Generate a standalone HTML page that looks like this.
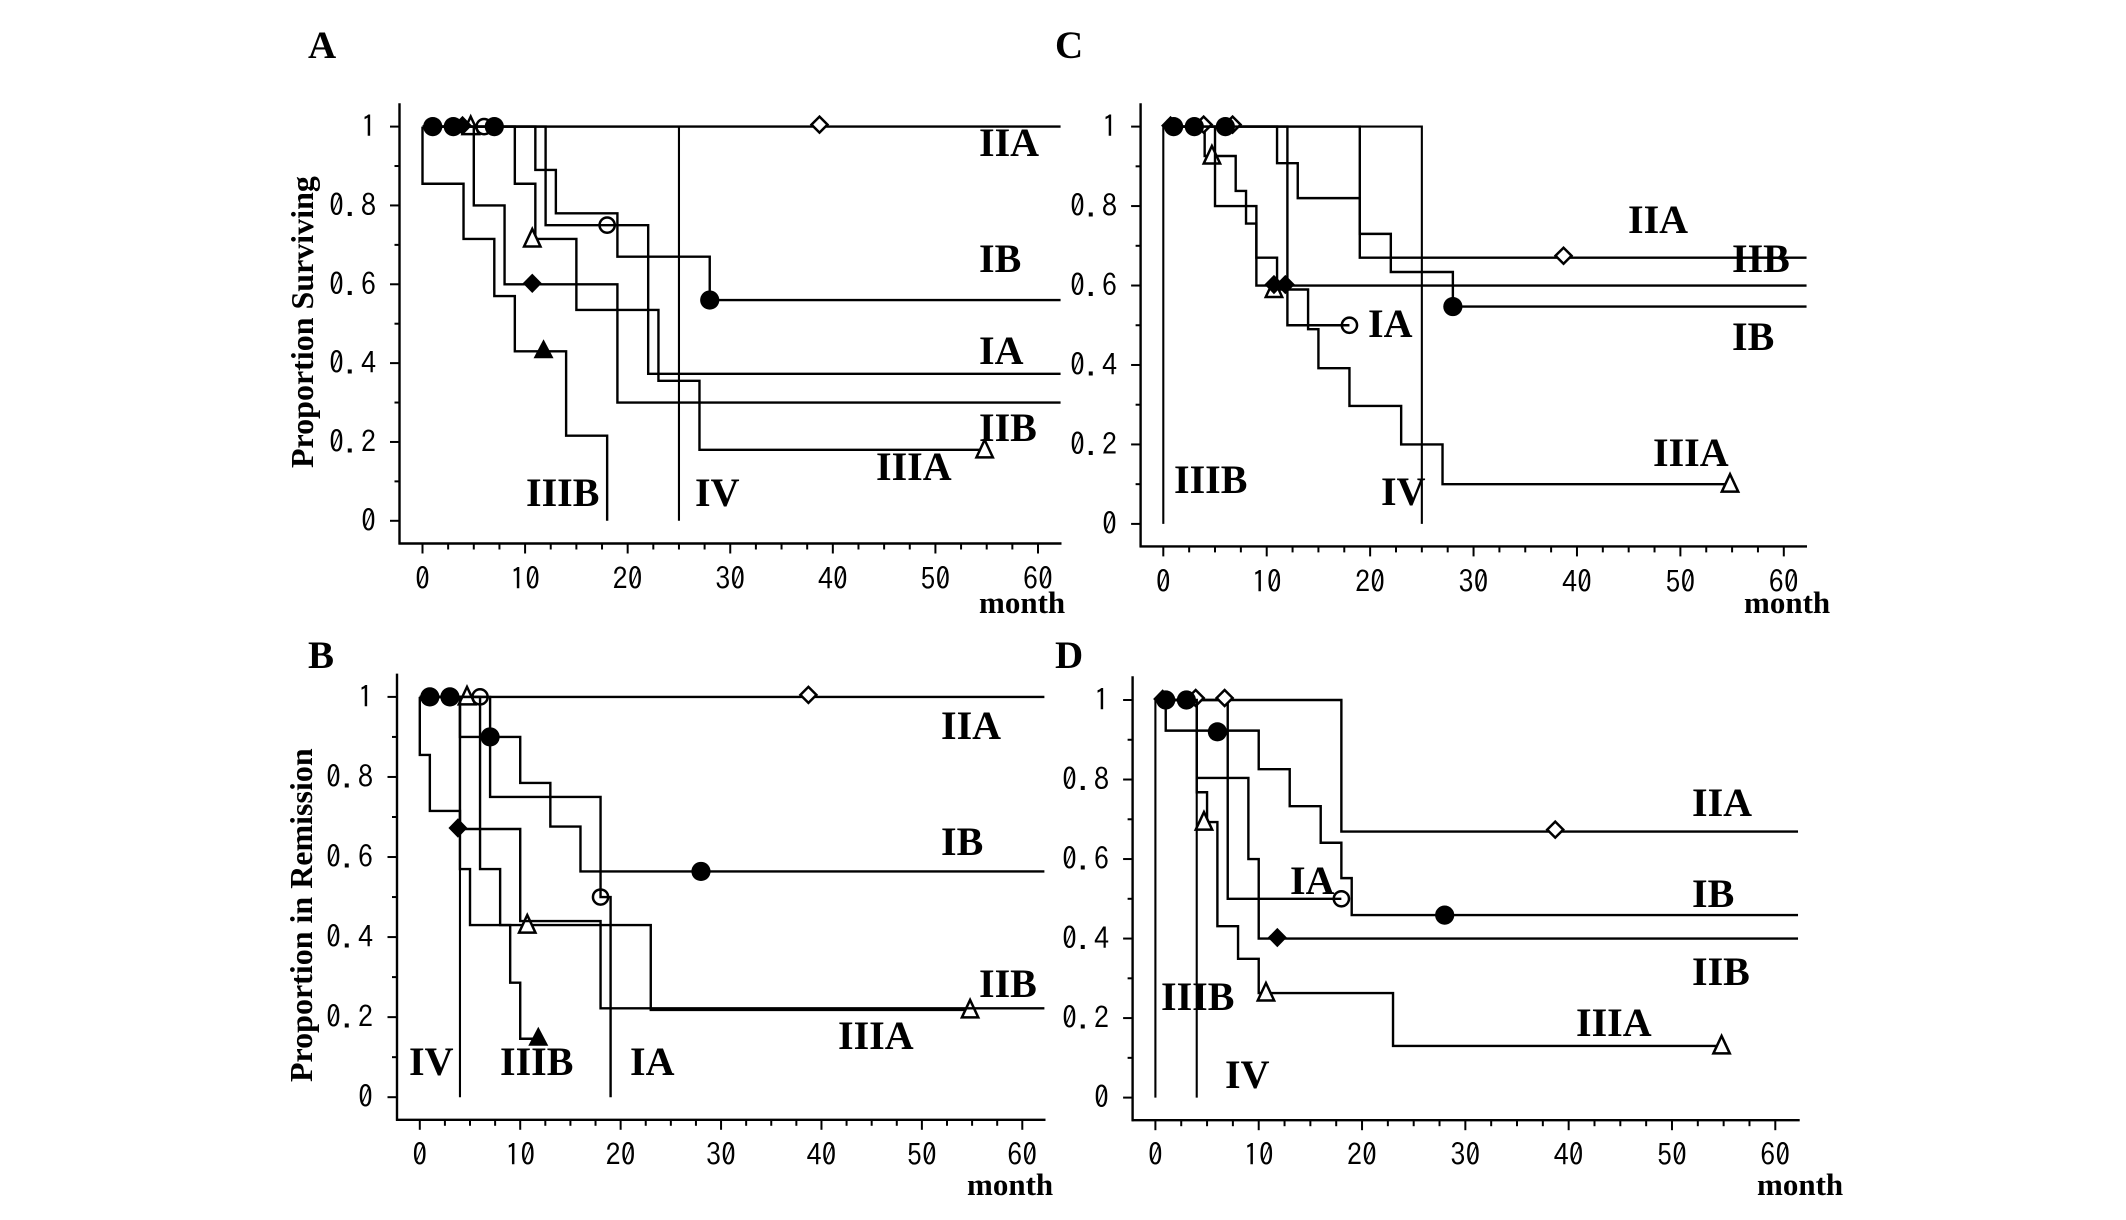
<!DOCTYPE html>
<html lang="en">
<head>
<meta charset="utf-8">
<title>Survival and remission curves by stage</title>
<style>
html,body{margin:0;padding:0;background:#fff;overflow:hidden;}
svg{display:block;}
.big{font-family:"Liberation Serif",serif;font-weight:bold;font-size:40px;fill:#000;}
.panel-letter{font-family:"Liberation Serif",serif;font-weight:bold;font-size:39px;fill:#000;}
.month{font-family:"Liberation Serif",serif;font-weight:bold;font-size:31px;fill:#000;}
.title{font-family:"Liberation Serif",serif;font-weight:bold;font-size:32px;fill:#000;}
.tick{font-family:"IPAGothic","Liberation Sans",sans-serif;font-size:30px;fill:#000;}
</style>
</head>
<body>
<svg id="figure" xmlns="http://www.w3.org/2000/svg" width="2126" height="1220" viewBox="0 0 2126 1220">
<rect width="2126" height="1220" fill="#fff"/>
<g id="plots"></g>

<text class="panel-letter" x="308" y="58">A</text>
<text class="panel-letter" x="1055" y="58">C</text>
<text class="panel-letter" x="308" y="668">B</text>
<text class="panel-letter" x="1055" y="668">D</text>

<text class="title" transform="translate(313,468) rotate(-90)">Proportion Surviving</text>
<text class="title" transform="translate(312,1082) rotate(-90)">Proportion in Remission</text>

<text class="month" x="979" y="613">month</text>
<text class="month" x="1744" y="613">month</text>
<text class="month" x="967" y="1195">month</text>
<text class="month" x="1757" y="1195">month</text>

<text class="big" x="979" y="156">IIA</text>
<text class="big" x="979" y="272">IB</text>
<text class="big" x="979" y="364">IA</text>
<text class="big" x="979" y="441">IIB</text>
<text class="big" x="876" y="480">IIIA</text>
<text class="big" x="526" y="506">IIIB</text>
<text class="big" x="695" y="506">IV</text>

<text class="big" x="1628" y="233">IIA</text>
<text class="big" x="1732" y="272">IIB</text>
<text class="big" x="1368" y="337">IA</text>
<text class="big" x="1732" y="350">IB</text>
<text class="big" x="1653" y="466">IIIA</text>
<text class="big" x="1174" y="493">IIIB</text>
<text class="big" x="1381" y="505">IV</text>

<text class="big" x="941" y="739">IIA</text>
<text class="big" x="941" y="855">IB</text>
<text class="big" x="979" y="997">IIB</text>
<text class="big" x="838" y="1049">IIIA</text>
<text class="big" x="409" y="1075">IV</text>
<text class="big" x="500" y="1075">IIIB</text>
<text class="big" x="630" y="1075">IA</text>

<text class="big" x="1692" y="816">IIA</text>
<text class="big" x="1290" y="894">IA</text>
<text class="big" x="1692" y="907">IB</text>
<text class="big" x="1692" y="985">IIB</text>
<text class="big" x="1161" y="1010">IIIB</text>
<text class="big" x="1576" y="1036">IIIA</text>
<text class="big" x="1225" y="1088">IV</text>
</svg>

<script>
// Shared tick data
const xMajorTicks = [0, 10, 20, 30, 40, 50, 60];
const xMinorTicks = [2.5, 5, 7.5, 12.5, 15, 17.5, 22.5, 25, 27.5, 32.5, 35, 37.5, 42.5, 45, 47.5, 52.5, 55, 57.5];
const yMajorTicks = [0, 0.2, 0.4, 0.6, 0.8, 1];
const yMinorTicks = [0.1, 0.3, 0.5, 0.7, 0.9];
const yTickLabels = ['0', '0.2', '0.4', '0.6', '0.8', '1'];

// Panel A
const aIIAMonths = [0, 62.2];
const aIIAValues = [1, 1];
const aIIAMarkMonths = [38.7];
const aIIAMarkValues = [1];
const aIBMonths = [0, 11, 13, 19, 28, 62.2];
const aIBValues = [1, 0.89, 0.78, 0.67, 0.56, 0.56];
const aIBMarkMonths = [1, 3, 7, 28];
const aIBMarkValues = [1, 1, 1, 0.56];
const aIAMonths = [0, 12, 22, 62.2];
const aIAValues = [1, 0.75, 0.373, 0.373];
const aIAMarkMonths = [6, 18];
const aIAMarkValues = [1, 0.75];
const aIIBMonths = [0, 5, 8, 19, 62.2];
const aIIBValues = [1, 0.8, 0.6, 0.3, 0.3];
const aIIBMarkMonths = [3.9, 10.7];
const aIIBMarkValues = [1, 0.6];
const aIIIAMonths = [0, 9, 11, 15, 23, 27, 55];
const aIIIAValues = [1, 0.855, 0.715, 0.535, 0.355, 0.18, 0.18];
const aIIIAMarkMonths = [4.7, 10.7, 54.8];
const aIIIAMarkValues = [1, 0.715, 0.18];
const aIIIBMonths = [0, 0, 4, 7, 9, 14, 18];
const aIIIBValues = [1, 0.855, 0.715, 0.57, 0.43, 0.216, 0];
const aIIIBMarkMonths = [11.8];
const aIIIBMarkValues = [0.43];
const aIVMonths = [0, 25];
const aIVValues = [1, 0];

// Panel B
const bIIAMonths = [0, 62.2];
const bIIAValues = [1, 1];
const bIIAMarkMonths = [38.7];
const bIIAMarkValues = [1];
const bIBMonths = [0, 4, 10, 13, 16, 62.2];
const bIBValues = [1, 0.9, 0.785, 0.676, 0.564, 0.564];
const bIBMarkMonths = [1, 3, 7, 28];
const bIBMarkValues = [1, 1, 0.9, 0.564];
const bIAMonths = [0, 7, 18, 19];
const bIAValues = [1, 0.75, 0.5, 0];
const bIAMarkMonths = [6, 18];
const bIAMarkValues = [1, 0.5];
const bIIBMonths = [0, 4, 10, 18, 62.2];
const bIIBValues = [1, 0.67, 0.44, 0.222, 0.222];
const bIIBMarkMonths = [3.8];
const bIIBMarkValues = [0.67];
const bIIIAMonths = [0, 6, 8, 23, 55];
const bIIIAValues = [1, 0.57, 0.43, 0.218, 0.218];
const bIIIAMarkMonths = [4.7, 10.7, 54.8];
const bIIIAMarkValues = [1, 0.43, 0.218];
const bIIIBMonths = [0, 0, 1, 4, 5, 9, 10, 12];
const bIIIBValues = [1, 0.855, 0.715, 0.57, 0.43, 0.286, 0.146, 0.146];
const bIIIBMarkMonths = [11.8];
const bIIIBMarkValues = [0.146];
const bIVMonths = [0, 4];
const bIVValues = [1, 0];

// Panel C
const cIIAMonths = [0, 19, 62.2];
const cIIAValues = [1, 0.67, 0.67];
const cIIAMarkMonths = [3.9, 6.7, 38.7];
const cIIAMarkValues = [1, 1, 0.67];
const cIBMonths = [0, 11, 13, 19, 22, 28, 62.2];
const cIBValues = [1, 0.908, 0.82, 0.73, 0.634, 0.547, 0.547];
const cIBMarkMonths = [1, 3, 6, 28];
const cIBMarkValues = [1, 1, 1, 0.547];
const cIAMonths = [0, 12, 18];
const cIAValues = [1, 0.5, 0.5];
const cIAMarkMonths = [18];
const cIAMarkValues = [0.5];
const cIIBMonths = [0, 5, 9, 62.2];
const cIIBValues = [1, 0.8, 0.6, 0.6];
const cIIBMarkMonths = [0.7, 10.7, 11.8];
const cIIBMarkValues = [1, 0.6, 0.6];
const cIIIAMonths = [0, 4, 7, 8, 9, 11, 14, 15, 18, 23, 27, 55];
const cIIIAValues = [1, 0.926, 0.838, 0.756, 0.67, 0.59, 0.49, 0.392, 0.297, 0.2, 0.1, 0.1];
const cIIIAMarkMonths = [4.7, 10.7, 54.8];
const cIIIAMarkValues = [0.926, 0.59, 0.1];
const cIIIBMonths = [0, 0];
const cIIIBValues = [1, 0];
const cIVMonths = [0, 25];
const cIVValues = [1, 0];

// Panel D
const dIIAMonths = [0, 18, 62.2];
const dIIAValues = [1, 0.669, 0.669];
const dIIAMarkMonths = [3.9, 6.7, 38.7];
const dIIAMarkValues = [1, 1, 0.669];
const dIBMonths = [0, 1, 10, 13, 16, 18, 19, 62.2];
const dIBValues = [1, 0.923, 0.826, 0.733, 0.641, 0.552, 0.459, 0.459];
const dIBMarkMonths = [1, 3, 6, 28];
const dIBMarkValues = [1, 1, 0.92, 0.459];
const dIAMonths = [0, 7, 18];
const dIAValues = [1, 0.5, 0.5];
const dIAMarkMonths = [18];
const dIAMarkValues = [0.5];
const dIIBMonths = [0, 4, 9, 10, 62.2];
const dIIBValues = [1, 0.804, 0.6, 0.4, 0.4];
const dIIBMarkMonths = [0.7, 11.8];
const dIIBMarkValues = [1, 0.4];
const dIIIAMonths = [0, 4, 5, 6, 8, 10, 23, 55];
const dIIIAValues = [1, 0.768, 0.693, 0.431, 0.349, 0.263, 0.13, 0.13];
const dIIIAMarkMonths = [4.7, 10.7, 54.8];
const dIIIAMarkValues = [0.693, 0.263, 0.13];
const dIIIBMonths = [0, 0];
const dIIIBValues = [1, 0];
const dIVMonths = [0, 4];
const dIVValues = [1, 0];

const SVGNS = 'http://www.w3.org/2000/svg';
const plots = document.getElementById('plots');

function el(tag, parent, attrs) {
  const n = document.createElementNS(SVGNS, tag);
  for (const k in attrs) n.setAttribute(k, attrs[k]);
  parent.appendChild(n);
  return n;
}

function makeAxes(g, p, sx, sy) {
  const yAxis = el('line', g, {x1: p.axisX, x2: p.axisX, y1: p.top, y2: p.axisY + 1, stroke: '#000', 'stroke-width': 2.4});
  
  
  const xAxis = el('line', g, {x1: p.axisX - 1, x2: p.right, y1: p.axisY, y2: p.axisY, stroke: '#000', 'stroke-width': 2.4});
  
  

  xMajorTicks.forEach(function (t) {
    const tick = el('line', g, {x1: sx(t), x2: sx(t), y1: p.axisY, y2: p.axisY + 10, stroke: '#000', 'stroke-width': 2});
    
    
    const lab = el('text', g, {class: 'tick', 'text-anchor': 'middle', x: sx(t), y: p.xLabelBase});
    
    
    lab.textContent = String(t);
  });
  xMinorTicks.forEach(function (t) {
    const tick = el('line', g, {x1: sx(t), x2: sx(t), y1: p.axisY, y2: p.axisY + 6, stroke: '#000', 'stroke-width': 2});
    
    
  });
  yMajorTicks.forEach(function (v, i) {
    const tick = el('line', g, {x1: p.axisX - 9.5, x2: p.axisX, y1: sy(v), y2: sy(v), stroke: '#000', 'stroke-width': 2});
    
    
    const lab = el('text', g, {class: 'tick', 'text-anchor': 'end', x: p.tickRight, y: sy(v) + 10.5, 'letter-spacing': 1});
    
    
    lab.textContent = yTickLabels[i];
  });
  yMinorTicks.forEach(function (v) {
    const tick = el('line', g, {x1: p.axisX - 5, x2: p.axisX, y1: sy(v), y2: sy(v), stroke: '#000', 'stroke-width': 2});
    
    
  });
}

function stepPath(months, values, sx, sy) {
  let d = 'M' + sx(months[0]) + ' ' + sy(values[0]);
  for (let i = 1; i < months.length; i++) {
    d += 'H' + sx(months[i]) + 'V' + sy(values[i]);
  }
  return d;
}

function drawMarker(g, shape, x, y) {
  let m;
  if (shape === 'filled-circle') {
    m = el('circle', g, {cx: x, cy: y, r: 9.6, fill: '#000'});
  } else if (shape === 'open-circle') {
    m = el('circle', g, {cx: x, cy: y, r: 7.6, fill: 'none', stroke: '#000', 'stroke-width': 2.5});
  } else if (shape === 'open-diamond') {
    m = el('path', g, {d: 'M' + x + ' ' + (y - 10) + 'L' + (x + 8) + ' ' + (y - 2) + 'L' + x + ' ' + (y + 6) + 'L' + (x - 8) + ' ' + (y - 2) + 'Z', fill: '#fff', stroke: '#000', 'stroke-width': 2.5});
  } else if (shape === 'filled-diamond') {
    m = el('path', g, {d: 'M' + x + ' ' + (y - 10.7) + 'L' + (x + 9.5) + ' ' + (y - 1) + 'L' + x + ' ' + (y + 8.7) + 'L' + (x - 9.5) + ' ' + (y - 1) + 'Z', fill: '#000'});
  } else if (shape === 'open-triangle') {
    m = el('path', g, {d: 'M' + x + ' ' + (y - 10) + 'L' + (x + 8.2) + ' ' + (y + 7.5) + 'L' + (x - 8.2) + ' ' + (y + 7.5) + 'Z', fill: '#fff', stroke: '#000', 'stroke-width': 2.5});
  } else {
    m = el('path', g, {d: 'M' + x + ' ' + (y - 12) + 'L' + (x + 10) + ' ' + (y + 7) + 'L' + (x - 10) + ' ' + (y + 7) + 'Z', fill: '#000'});
  }
  
  
}

function drawSeries(g, s, sx, sy) {
  const line = el('path', g, {d: stepPath(s.months, s.values, sx, sy), fill: 'none', stroke: '#000', 'stroke-width': s.width || 2.4});
  
  
  if (s.markMonths) {
    s.markMonths.forEach(function (mo, i) {
      drawMarker(g, s.shape, sx(mo), sy(s.markValues[i]));
    });
  }
}

const panels = [
  {name: 'a', x0: 422.5, x60: 1038, y1: 126.6, y0: 520.8, axisX: 399.5, axisY: 543.5, top: 103.3, right: 1061.5, tickRight: 377, xLabelBase: 589.5,
    series: [
      {name: 'iv', months: aIVMonths, values: aIVValues, width: 2.1},
      {name: 'iiib', months: aIIIBMonths, values: aIIIBValues, markMonths: aIIIBMarkMonths, markValues: aIIIBMarkValues, shape: 'filled-triangle'},
      {name: 'iiia', months: aIIIAMonths, values: aIIIAValues, markMonths: aIIIAMarkMonths, markValues: aIIIAMarkValues, shape: 'open-triangle'},
      {name: 'iib', months: aIIBMonths, values: aIIBValues, markMonths: aIIBMarkMonths, markValues: aIIBMarkValues, shape: 'filled-diamond'},
      {name: 'ia', months: aIAMonths, values: aIAValues, markMonths: aIAMarkMonths, markValues: aIAMarkValues, shape: 'open-circle'},
      {name: 'ib', months: aIBMonths, values: aIBValues, markMonths: aIBMarkMonths, markValues: aIBMarkValues, shape: 'filled-circle'},
      {name: 'iia', months: aIIAMonths, values: aIIAValues, markMonths: aIIAMarkMonths, markValues: aIIAMarkValues, shape: 'open-diamond'}
    ]},
  {name: 'c', x0: 1163.3, x60: 1783.8, y1: 126.6, y0: 523.9, axisX: 1140.6, axisY: 546.4, top: 103.3, right: 1807, tickRight: 1118, xLabelBase: 592.6,
    series: [
      {name: 'iiib', months: cIIIBMonths, values: cIIIBValues, width: 2.1},
      {name: 'iv', months: cIVMonths, values: cIVValues, width: 2.1},
      {name: 'iiia', months: cIIIAMonths, values: cIIIAValues, markMonths: cIIIAMarkMonths, markValues: cIIIAMarkValues, shape: 'open-triangle'},
      {name: 'ia', months: cIAMonths, values: cIAValues, markMonths: cIAMarkMonths, markValues: cIAMarkValues, shape: 'open-circle'},
      {name: 'iia', months: cIIAMonths, values: cIIAValues, markMonths: cIIAMarkMonths, markValues: cIIAMarkValues, shape: 'open-diamond'},
      {name: 'iib', months: cIIBMonths, values: cIIBValues, markMonths: cIIBMarkMonths, markValues: cIIBMarkValues, shape: 'filled-diamond'},
      {name: 'ib', months: cIBMonths, values: cIBValues, markMonths: cIBMarkMonths, markValues: cIBMarkValues, shape: 'filled-circle'}
    ]},
  {name: 'b', x0: 419.8, x60: 1022.3, y1: 696.9, y0: 1097.2, axisX: 397, axisY: 1119.8, top: 673.6, right: 1045.5, tickRight: 374, xLabelBase: 1165.3,
    series: [
      {name: 'iv', months: bIVMonths, values: bIVValues, width: 2.1},
      {name: 'iiib', months: bIIIBMonths, values: bIIIBValues, markMonths: bIIIBMarkMonths, markValues: bIIIBMarkValues, shape: 'filled-triangle'},
      {name: 'iiia', months: bIIIAMonths, values: bIIIAValues, markMonths: bIIIAMarkMonths, markValues: bIIIAMarkValues, shape: 'open-triangle'},
      {name: 'iib', months: bIIBMonths, values: bIIBValues, markMonths: bIIBMarkMonths, markValues: bIIBMarkValues, shape: 'filled-diamond'},
      {name: 'ia', months: bIAMonths, values: bIAValues, markMonths: bIAMarkMonths, markValues: bIAMarkValues, shape: 'open-circle'},
      {name: 'ib', months: bIBMonths, values: bIBValues, markMonths: bIBMarkMonths, markValues: bIBMarkValues, shape: 'filled-circle'},
      {name: 'iia', months: bIIAMonths, values: bIIAValues, markMonths: bIIAMarkMonths, markValues: bIIAMarkValues, shape: 'open-diamond'}
    ]},
  {name: 'd', x0: 1155.4, x60: 1775.3, y1: 700, y0: 1097.6, axisX: 1132.6, axisY: 1120.2, top: 676.3, right: 1799.7, tickRight: 1110, xLabelBase: 1165.3,
    series: [
      {name: 'iiib', months: dIIIBMonths, values: dIIIBValues, width: 2.1},
      {name: 'iv', months: dIVMonths, values: dIVValues, width: 2.1},
      {name: 'iiia', months: dIIIAMonths, values: dIIIAValues, markMonths: dIIIAMarkMonths, markValues: dIIIAMarkValues, shape: 'open-triangle'},
      {name: 'ia', months: dIAMonths, values: dIAValues, markMonths: dIAMarkMonths, markValues: dIAMarkValues, shape: 'open-circle'},
      {name: 'iia', months: dIIAMonths, values: dIIAValues, markMonths: dIIAMarkMonths, markValues: dIIAMarkValues, shape: 'open-diamond'},
      {name: 'iib', months: dIIBMonths, values: dIIBValues, markMonths: dIIBMarkMonths, markValues: dIIBMarkValues, shape: 'filled-diamond'},
      {name: 'ib', months: dIBMonths, values: dIBValues, markMonths: dIBMarkMonths, markValues: dIBMarkValues, shape: 'filled-circle'}
    ]}
];

panels.forEach(function (p) {
  const sx = function (m) { return p.x0 + (p.x60 - p.x0) * m / 60; };
  const sy = function (v) { return p.y0 + (p.y1 - p.y0) * v; };
  const g = el('g', plots, {});
  
  
  makeAxes(g, p, sx, sy);
  p.series.forEach(function (s) { drawSeries(g, s, sx, sy); });
});
</script>
</body>
</html>
